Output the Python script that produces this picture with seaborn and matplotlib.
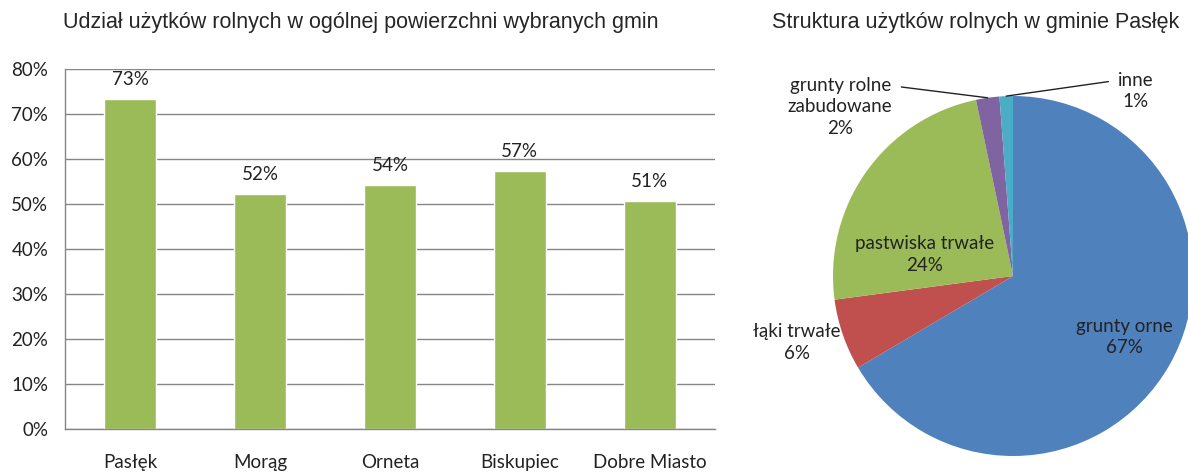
import numpy as np
import matplotlib
matplotlib.use('Agg')
import matplotlib.pyplot as plt
from matplotlib.ticker import PercentFormatter
import seaborn as sns

# bar chart data
gminy = ['Pasłęk', 'Morąg', 'Orneta', 'Biskupiec', 'Dobre Miasto']
udzial = [0.733, 0.522, 0.542, 0.573, 0.506]
udzial_labels = ['73%', '52%', '54%', '57%', '51%']

# pie chart data
uzytki = ['grunty orne', 'łąki trwałe', 'pastwiska trwałe',
          'grunty rolne\nzabudowane', 'inne']
struktura = [66.5, 6.4, 23.8, 2.1, 1.2]
struktura_labels = ['67%', '6%', '24%', '2%', '1%']
pie_colors = ['#4F81BD', '#C0504D', '#9BBB59', '#8064A2', '#4BACC6']

sns.set_style('white')
plt.rcParams['font.family'] = ['Lato', 'DejaVu Sans']

fig = plt.figure(figsize=(11.88, 4.73), dpi=100)

#############
# bar chart
#############
ax = fig.add_axes([0.0547, 0.093, 0.547, 0.761])
sns.barplot(x=gminy, y=udzial, color='#9BBB59', saturation=1, width=0.4, ax=ax)
ax.set_ylim(0, 0.8)
ax.set_yticks(np.arange(0, 0.81, 0.1))
ax.yaxis.set_major_formatter(PercentFormatter(1.0, decimals=0))
ax.grid(axis='y', color='#868686', lw=1)
ax.set_axisbelow(True)
for s in ['top', 'right']:
    ax.spines[s].set_visible(False)
for s in ['left', 'bottom']:
    ax.spines[s].set_color('#868686')
    ax.spines[s].set_linewidth(1)
ax.tick_params(axis='y', length=0, pad=12, labelsize=13.5, labelcolor='#222222')
ax.tick_params(axis='x', length=0, pad=18, labelsize=13.5, labelcolor='#222222')
ax.bar_label(ax.containers[0], labels=udzial_labels, padding=8, fontsize=13.5,
             color='#222222')
ax.set_xlabel('')
ax.set_ylabel('')

fig.text(0.304, 0.952, 'Udział użytków rolnych w ogólnej powierzchni wybranych gmin',
         ha='center', va='center', fontsize=15.5, family='Liberation Sans')

#############
# pie chart
#############
r_px = 180
cx, cy = 1013, 473 - 276
pax = fig.add_axes([(cx - r_px) / 1188, (cy - r_px) / 473,
                    2 * r_px / 1188, 2 * r_px / 473])
wedges, _ = pax.pie(struktura, colors=pie_colors, startangle=90,
                    counterclock=False, radius=1,
                    wedgeprops=dict(linewidth=0))
pax.set_xlim(-1, 1)
pax.set_ylim(-1, 1)
pax.set_aspect('equal')
pax.axis('off')

label_pos = [(0.62, -0.34), (-1.2, -0.37), (-0.49, 0.12), (-0.96, 0.94), (0.68, 1.03)]
for name, lab, (tx, ty) in zip(uzytki, struktura_labels, label_pos):
    pax.text(tx, ty, f'{name}\n{lab}', ha='center', va='center', fontsize=13.5,
             color='#222222', linespacing=1.3, clip_on=False)

# leader lines for the two thin slices
for w, start in zip(wedges[3:], [(-0.62, 1.05), (0.53, 1.08)]):
    mid = np.deg2rad((w.theta1 + w.theta2) / 2)
    ex, ey = np.cos(mid), np.sin(mid)
    pax.plot([start[0], ex], [start[1], ey], color='#222222', lw=1, clip_on=False)

fig.text(0.821, 0.952, 'Struktura użytków rolnych w gminie Pasłęk',
         ha='center', va='center', fontsize=15.5, family='Liberation Sans')

fig.savefig('out.png', dpi=100)
